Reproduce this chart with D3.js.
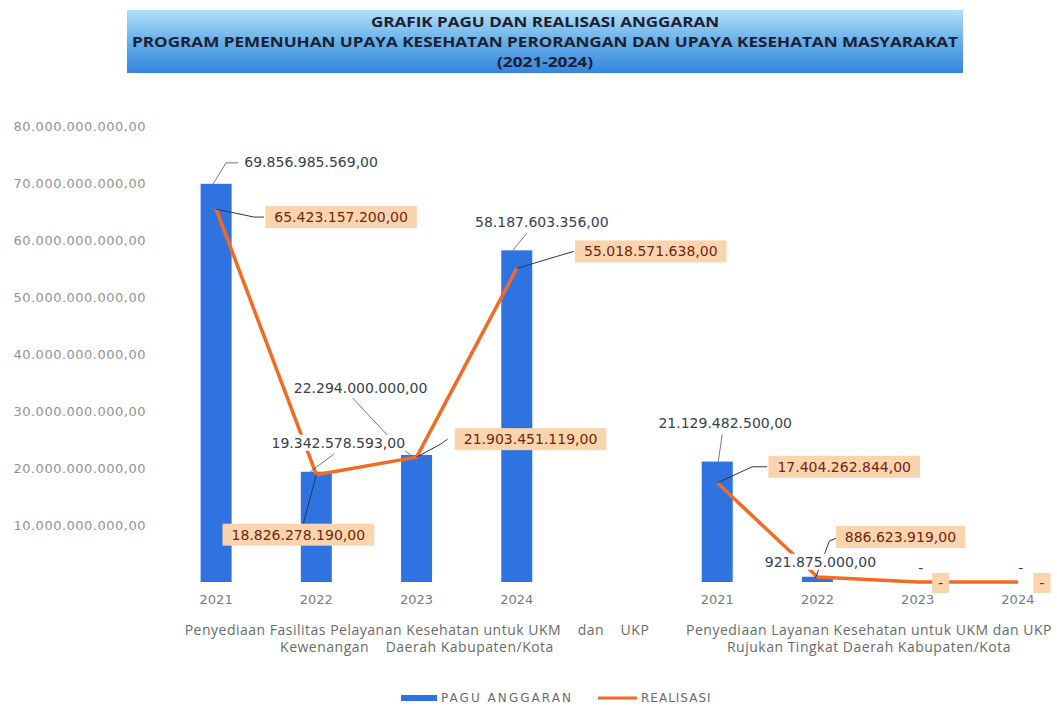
<!DOCTYPE html>
<html>
<head>
<meta charset="utf-8">
<script src="https://cdn.jsdelivr.net/npm/d3@7"></script>
<style>
  body { margin: 0; background: #fff; }
  svg { display: block; }
  .axis-y text { font-family: "DejaVu Sans", sans-serif; font-size: 13px; fill: #939393; letter-spacing: 0.5px; }
  .axis-x text { font-family: "DejaVu Sans", sans-serif; font-size: 13px; fill: #7a7a7a; }
  .pagu-label { font-family: "DejaVu Sans", sans-serif; font-size: 14px; fill: #34414f; }
  .real-label { font-family: "DejaVu Sans", sans-serif; font-size: 14px; fill: #6e2616; }
  .cat-label { font-family: "Open Sans", sans-serif; font-size: 14px; fill: #6a6a6a; letter-spacing: 0.5px; white-space: pre; }
  .legend text { font-family: "DejaVu Sans", sans-serif; font-size: 12px; fill: #6a6a6a; letter-spacing: 1px; }
</style>
</head>
<body>
<div id="chart"></div>
<script>
// Data
const years = ["2021", "2022", "2023", "2024"];
const programs = [
  ["Penyediaan Fasilitas Pelayanan Kesehatan untuk UKM    dan    UKP", "Kewenangan    Daerah Kabupaten/Kota"],
  ["Penyediaan Layanan Kesehatan untuk UKM dan UKP", "Rujukan Tingkat Daerah Kabupaten/Kota"]
];
const pagu = [
  [69856985569, 19342578593, 22294000000, 58187603356],
  [21129482500, 921875000, 0, 0]
];
const realisasi = [
  [65423157200, 18826278190, 21903451119, 55018571638],
  [17404262844, 886623919, 0, 0]
];
const yTicks = [10e9, 20e9, 30e9, 40e9, 50e9, 60e9, 70e9, 80e9];
const titleLines = [
  "GRAFIK PAGU DAN REALISASI ANGGARAN",
  "PROGRAM PEMENUHAN UPAYA KESEHATAN PERORANGAN DAN UPAYA KESEHATAN MASYARAKAT",
  "(2021-2024)"
];

// Label layout: offset of label centre from its point + leader path offsets
const paguLayout = [
  [[95, -22], [[-3, 0], [10, -21], [22, -21]]],
  [[22, -29], [[-6, 0], [18, -18]]],
  [[-56, -67], [[-64, -57], [-21, -11], [-6, 0]]],
  [[25, -28], [[10, -17], [-4, 0]]],
  [[8, -39], [[5, -27], [1, 0]]],
  [[3, -15], null],
  [[3, -14], null],
  [[3, -14], null]
];
const realLayout = [
  [[125, 8], [[0, 0], [38, 8], [48, 8]]],
  [[-18, 60], [[0, 0], [-13, 49]]],
  [[114, -18], [[0, 0], [24, -13], [31, -18]]],
  [[134, -17], [[0, 0], [40, -12], [57, -17]]],
  [[127, -16], [[0, 0], [35, -16], [50, -16]]],
  [[83, -40], [[-2, 1], [12, -36], [22, -40]]],
  [[23, 1], null],
  [[24, 1], null]
];

const width = 1057, height = 708;
const fmt = d3.formatLocale({ decimal: ",", thousands: ".", grouping: [3], currency: ["", ""] }).format(",.2f");
const label = v => v === 0 ? "-" : fmt(v);

const svg = d3.select("#chart")
  .append("svg")
    .attr("width", width)
    .attr("height", height);

/* Title banner */
const grad = svg.append("defs").append("linearGradient")
  .attr("id", "banner").attr("x1", 0).attr("y1", 0).attr("x2", 0).attr("y2", 1);
grad.append("stop").attr("offset", "0%").attr("stop-color", "#b3e0f7");
grad.append("stop").attr("offset", "50%").attr("stop-color", "#66afea");
grad.append("stop").attr("offset", "100%").attr("stop-color", "#3585dc");

svg.append("rect")
  .attr("x", 127).attr("y", 10)
  .attr("width", 836).attr("height", 63)
  .attr("fill", "url(#banner)");

const titleWidths = [348, 826, 96];
svg.selectAll(".title")
  .data(titleLines)
  .join("text")
    .attr("class", "title")
    .attr("x", 545)
    .attr("y", (d, i) => 27 + i * 20)
    .attr("text-anchor", "middle")
    .attr("textLength", (d, i) => titleWidths[i])
    .attr("lengthAdjust", "spacingAndGlyphs")
    .style("font-family", "'Open Sans', sans-serif")
    .style("font-weight", 700)
    .style("font-size", "15px")
    .style("fill", "#1c2030")
    .text(d => d);

/* Scales */
const slots = [];
years.forEach(y => slots.push("A" + y));
slots.push("gap");
years.forEach(y => slots.push("B" + y));

const xScale = d3.scaleBand()
  .domain(slots)
  .range([166, 1068]);
const cx = k => xScale(k) + xScale.bandwidth() / 2;

const yScale = d3.scaleLinear()
  .domain([0, 80e9])
  .range([582, 126]);

/* Axes */
const leftAxis = d3.axisLeft(yScale)
  .tickValues(yTicks)
  .tickFormat(fmt)
  .tickSize(0)
  .tickPadding(0);
svg.append("g")
    .attr("class", "axis-y")
    .attr("transform", "translate(146, 0)")
    .call(leftAxis)
    .call(g => g.select(".domain").remove());

const bottomAxis = d3.axisBottom(xScale)
  .tickValues(slots.filter(s => s !== "gap"))
  .tickFormat(k => k.slice(1))
  .tickSize(0)
  .tickPadding(13);
svg.append("g")
    .attr("class", "axis-x")
    .attr("transform", "translate(0, 582)")
    .call(bottomAxis)
    .call(g => g.select(".domain").remove());

/* Flatten data into points */
const points = [];
pagu.forEach((vals, g) => {
  vals.forEach((v, i) => {
    points.push({ group: g, key: (g === 0 ? "A" : "B") + years[i], pagu: v, real: realisasi[g][i] });
  });
});

/* Bars */
const barW = 31;
svg.selectAll(".bar")
  .data(points)
  .join("rect")
    .attr("class", "bar")
    .attr("x", d => cx(d.key) - barW / 2)
    .attr("y", d => yScale(d.pagu))
    .attr("width", barW)
    .attr("height", d => yScale(0) - yScale(d.pagu))
    .attr("fill", "#2f73e0");

/* Realisasi line, one per program */
const lineGen = d3.line()
  .x(d => cx(d.key))
  .y(d => yScale(d.real));
[0, 1].forEach(g => {
  svg.append("path")
    .datum(points.filter(p => p.group === g))
    .attr("d", lineGen)
    .attr("fill", "none")
    .attr("stroke", "#f26a24")
    .attr("stroke-width", 3.5)
    .attr("stroke-linejoin", "round");
});

/* Leader lines */
const leader = d3.line();
points.forEach((p, i) => {
  const px = cx(p.key);
  const pl = paguLayout[i][1];
  if (pl) {
    svg.append("path")
      .attr("d", leader(pl.map(o => [px + o[0], yScale(p.pagu) + o[1]])))
      .attr("fill", "none").attr("stroke", "#555").attr("stroke-width", 0.8);
  }
  const rl = realLayout[i][1];
  if (rl) {
    svg.append("path")
      .attr("d", leader(rl.map(o => [px + o[0], yScale(p.real) + o[1]])))
      .attr("fill", "none").attr("stroke", "#2a3550").attr("stroke-width", 1);
  }
});

/* Pagu labels with white background */
points.forEach((p, i) => {
  const [dx, dy] = paguLayout[i][0];
  const lx = cx(p.key) + dx, ly = yScale(p.pagu) + dy;
  const txt = label(p.pagu);
  const g = svg.append("g");
  const t = g.append("text")
    .attr("class", "pagu-label")
    .attr("x", lx).attr("y", ly)
    .attr("text-anchor", "middle")
    .attr("dominant-baseline", "central")
    .text(txt);
  if (p.pagu !== 0) {
    const bb = t.node().getBBox();
    g.insert("rect", "text")
      .attr("x", bb.x - 2).attr("y", bb.y)
      .attr("width", bb.width + 4).attr("height", bb.height)
      .attr("fill", "#fff");
  }
});

/* Realisasi labels in peach boxes */
points.forEach((p, i) => {
  const [dx, dy] = realLayout[i][0];
  const lx = cx(p.key) + dx, ly = yScale(p.real) + dy;
  const g = svg.append("g");
  const t = g.append("text")
    .attr("class", "real-label")
    .attr("x", lx).attr("y", ly)
    .attr("text-anchor", "middle")
    .attr("dominant-baseline", "central")
    .text(label(p.real));
  const bb = t.node().getBBox();
  const padX = p.real === 0 ? 6 : 9;
  const boxH = p.real === 0 ? 20 : 22;
  g.insert("rect", "text")
    .attr("x", bb.x - padX)
    .attr("y", ly - boxH / 2)
    .attr("width", bb.width + padX * 2)
    .attr("height", boxH)
    .attr("fill", "#fad4ad");
});

/* Category labels */
const catX = [417, 869];
programs.forEach((lines, g) => {
  svg.append("text")
    .attr("class", "cat-label")
    .attr("x", catX[g])
    .attr("text-anchor", "middle")
    .selectAll("tspan")
    .data(lines)
    .join("tspan")
      .attr("x", catX[g])
      .attr("y", (d, i) => 635 + i * 17)
      .text(d => d);
});

/* Legend */
const legend = svg.append("g").attr("class", "legend");
legend.append("rect")
  .attr("x", 401).attr("y", 695).attr("width", 36).attr("height", 6)
  .attr("fill", "#2f73e0");
legend.append("text").attr("x", 441).attr("y", 702)
  .attr("textLength", 131).attr("lengthAdjust", "spacing")
  .text("PAGU ANGGARAN");
legend.append("line")
  .attr("x1", 598).attr("x2", 637).attr("y1", 698).attr("y2", 698)
  .attr("stroke", "#f26a24").attr("stroke-width", 3);
legend.append("text").attr("x", 641).attr("y", 702).text("REALISASI");
</script>
</body>
</html>
